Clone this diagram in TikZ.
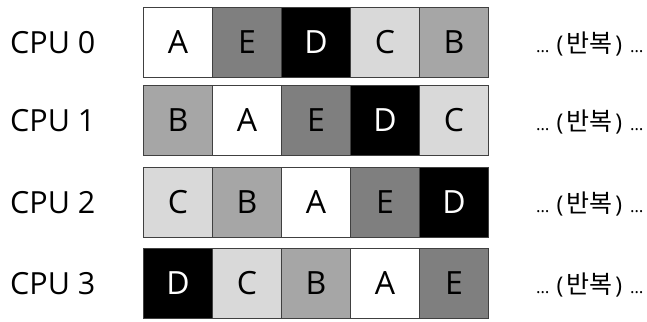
\documentclass[tikz,border=0pt]{standalone}
\usepackage{fontspec}
\setmainfont{Open Sans}
\newfontfamily\kr{Noto Sans CJK KR}
\definecolor{cA}{HTML}{FFFFFF}
\definecolor{cB}{HTML}{A6A6A6}
\definecolor{cC}{HTML}{D9D9D9}
\definecolor{cD}{HTML}{000000}
\definecolor{cE}{HTML}{7F7F7F}
\definecolor{edge}{HTML}{404040}
\newcommand{\smalldots}{{\fontsize{17}{17}\selectfont …}}
\tikzset{
  cell/.style={draw=edge, line width=1pt, minimum width=69pt, minimum height=70pt,
    inner sep=0pt, anchor=north west, font=\fontsize{32}{32}\selectfont},
  cellA/.style={cell, fill=cA, text=black},
  cellB/.style={cell, fill=cB, text=black},
  cellC/.style={cell, fill=cC, text=black},
  cellD/.style={cell, fill=cD, text=white},
  cellE/.style={cell, fill=cE, text=black},
  cpulabel/.style={anchor=west, inner sep=0pt, font=\fontsize{30.5}{30.5}\selectfont},
  rep/.style={anchor=west, inner sep=0pt, font=\fontsize{23}{23}\selectfont},
}
\begin{document}
\begin{tikzpicture}[x=1pt,y=-1pt]
\useasboundingbox (0,0) rectangle (647,321);
\foreach \r/\top/\seq in {0/7/{A,E,D,C,B},1/85/{B,A,E,D,C},2/167/{C,B,A,E,D},3/248/{D,C,B,A,E}}{
  \node[cpulabel] (cpu\r) at (10,\top+36) {CPU \r};
  \foreach \L [count=\i from 0] in \seq {
    \node[cell\L] (c\r-\i) at (143+69*\i,\top) {\L};
  }
  \node[rep] (rep\r) at (536,\top+37) {\smalldots\hspace{7pt}(\hspace{3pt}{\kr\fontsize{25}{25}\selectfont 반복}\hspace{3pt})\hspace{8pt}\smalldots};
}
\end{tikzpicture}
\end{document}
